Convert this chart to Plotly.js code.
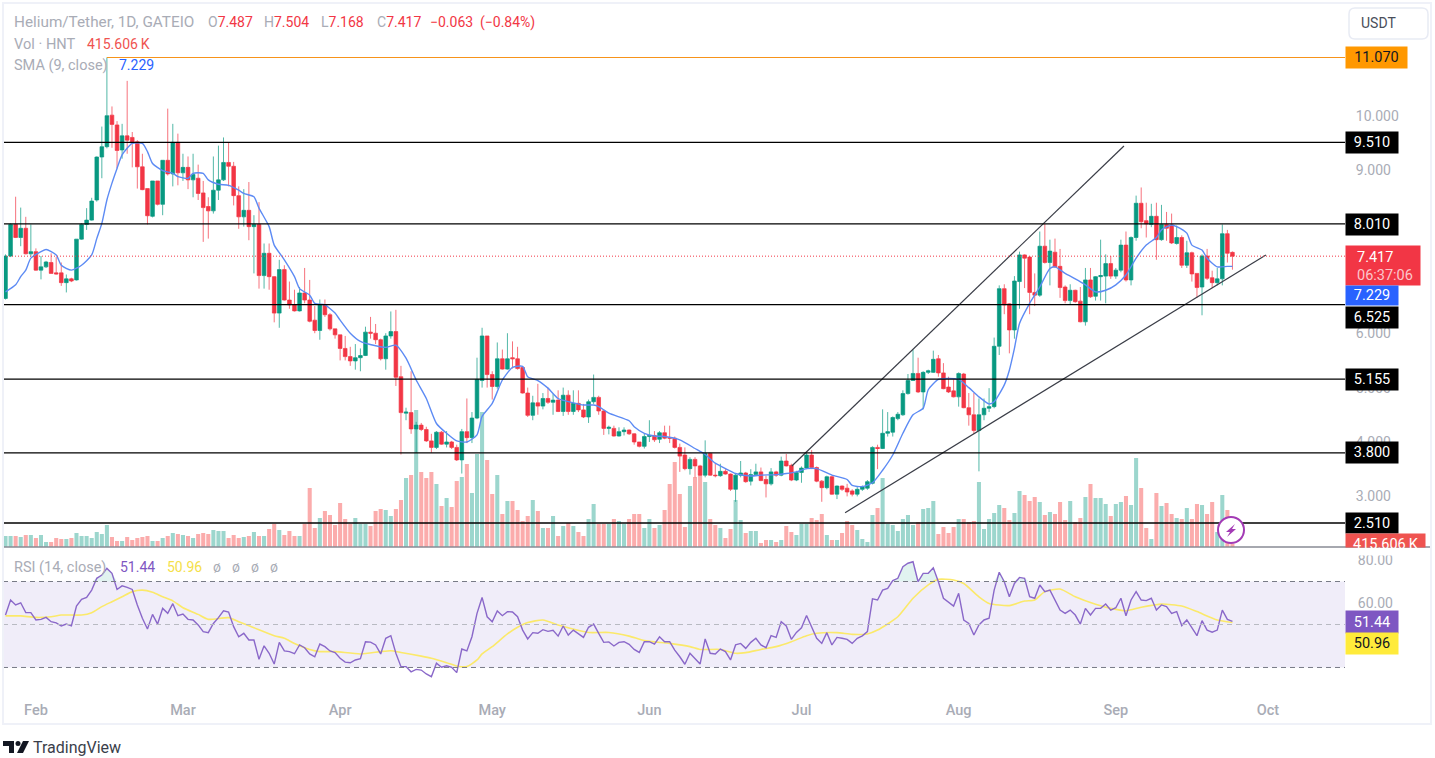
<!DOCTYPE html>
<html><head><meta charset="utf-8">
<script src="https://cdn.plot.ly/plotly-3.0.1.min.js"></script>
<style>html,body{margin:0;padding:0;background:#fff;overflow:hidden}#c{width:1435px;height:758px}</style>
</head><body><div id="c"></div>
<script>
const firstDay = [2023,0,25];
const openP = [
6.64,7.42,8.00,7.76,7.93,7.46,7.50,7.16,7.22,7.30,
7.11,7.11,6.93,7.00,6.98,7.73,8.00,8.08,8.45,9.24,
9.43,10.01,9.83,9.37,9.63,9.60,9.52,9.06,8.66,8.15,
8.80,8.37,9.18,8.93,9.51,8.95,9.05,8.82,8.85,8.58,
8.33,8.25,8.63,8.82,9.14,9.07,8.53,8.14,8.26,7.96,
8.00,7.06,7.47,7.04,6.37,7.17,6.61,6.52,6.41,6.74,
6.61,6.24,6.05,6.52,6.34,6.08,5.97,5.72,5.57,5.49,
5.55,5.59,6.02,6.00,5.88,5.53,5.95,6.03,5.20,4.53,
4.54,4.24,4.31,4.23,4.02,3.90,4.18,3.96,4.00,3.90,
3.67,4.19,4.08,4.44,5.13,5.95,5.24,5.02,5.53,5.34,
5.55,5.53,5.37,4.90,4.49,4.72,4.66,4.80,4.73,4.77,
4.56,4.86,4.56,4.71,4.59,4.46,4.74,4.82,4.57,4.25,
4.25,4.11,4.19,4.22,4.15,4.00,3.92,4.10,4.12,4.05,
4.17,4.08,4.07,3.90,3.76,3.51,3.68,3.56,3.39,3.79,
3.39,3.38,3.46,3.41,3.13,3.39,3.43,3.28,3.40,3.45,
3.31,3.23,3.45,3.39,3.65,3.57,3.30,3.44,3.52,3.76,
3.53,3.28,3.16,3.36,3.04,3.19,3.15,3.10,3.04,3.13,
3.15,3.24,3.90,3.88,4.16,4.18,4.43,4.50,4.89,5.13,
5.26,4.92,5.28,5.28,5.53,5.27,5.01,4.94,4.83,5.25,
4.63,4.50,4.21,4.50,4.62,4.65,5.76,6.82,6.54,6.06,
6.95,7.44,7.40,6.75,6.70,7.60,7.30,7.49,7.23,6.85,
6.60,6.79,6.59,6.21,6.98,6.68,7.04,7.05,7.28,7.05,
7.16,7.62,6.98,7.76,8.39,8.07,8.00,8.15,7.72,8.00,
7.99,7.65,7.76,7.25,7.48,7.10,6.85,7.42,7.02,6.93,
7.00,7.83,7.487];
const highP = [
7.45,8.02,8.51,8.31,8.14,8.00,7.56,7.42,7.33,7.47,
7.40,7.30,7.08,7.02,7.73,8.02,8.30,8.49,9.25,9.80,
11.07,10.17,9.90,9.85,10.64,9.70,9.55,9.30,8.66,8.80,
8.80,9.18,10.13,9.85,9.67,9.30,9.25,9.30,9.10,8.80,
8.50,9.25,9.45,9.60,9.50,9.15,8.70,8.65,8.78,8.17,
8.41,7.65,7.65,7.05,7.35,7.25,6.95,6.80,6.85,7.20,
6.98,6.50,6.62,6.62,6.37,6.08,5.97,5.95,5.75,5.80,
5.72,6.12,6.30,6.17,5.90,6.00,6.40,6.43,5.40,4.63,
5.30,4.37,4.35,4.28,4.15,4.20,4.20,4.20,4.02,3.95,
4.24,4.80,4.55,5.55,6.10,5.95,5.30,5.83,5.70,6.00,
5.85,5.75,5.38,5.00,4.85,5.07,4.90,5.00,4.88,4.95,
5.00,4.95,4.95,4.95,4.70,4.78,5.24,4.85,4.60,4.30,
4.30,4.27,4.27,4.23,4.16,4.00,4.15,4.40,4.20,4.20,
4.30,4.30,4.10,3.97,3.90,3.72,3.72,3.58,4.03,3.80,
3.60,3.60,3.50,3.42,3.41,3.65,3.45,3.50,3.60,3.53,
3.38,3.52,3.47,3.73,3.78,3.60,3.47,3.55,3.80,3.85,
3.55,3.30,3.38,3.38,3.20,3.20,3.23,3.13,3.17,3.20,
3.30,3.92,3.95,4.60,4.55,4.47,4.55,4.95,5.25,5.70,
5.55,5.30,5.33,5.68,5.60,5.45,5.20,5.15,5.28,5.27,
4.90,4.90,4.80,4.80,4.99,5.92,6.88,6.90,6.55,7.05,
7.50,7.45,7.42,7.10,7.87,8.01,7.72,7.74,7.55,6.88,
6.90,6.80,6.85,7.20,7.20,7.05,7.72,7.45,7.42,7.20,
7.72,7.87,7.78,8.53,8.68,8.40,8.38,8.40,8.36,8.23,
8.20,7.98,7.80,7.70,7.50,7.10,7.45,7.55,7.15,7.20,
8.00,7.90,7.504];
const lowP = [
6.62,7.40,7.75,7.60,7.45,7.41,7.15,6.99,7.20,7.10,
7.08,6.87,6.75,6.94,6.97,7.72,7.90,8.07,8.42,8.85,
9.40,9.41,9.03,9.21,9.30,9.05,8.66,8.63,8.00,8.13,
8.35,8.17,8.90,8.70,8.72,8.80,8.65,8.50,8.45,7.68,
7.74,8.20,8.45,8.80,8.70,8.35,7.92,7.96,7.71,7.10,
6.82,6.82,6.80,6.20,6.10,6.60,6.45,6.40,6.40,6.55,
6.20,6.00,5.88,6.30,6.05,5.90,5.50,5.50,5.40,5.33,
5.30,5.58,5.90,5.80,5.50,5.33,5.90,5.03,3.77,4.40,
4.15,3.80,4.20,4.00,3.80,3.87,3.95,3.90,3.87,3.65,
3.42,3.98,3.98,4.42,5.00,5.00,4.78,4.98,5.33,5.33,
5.35,5.33,4.89,4.46,4.40,4.50,4.60,4.70,4.50,4.55,
4.48,4.50,4.50,4.55,4.44,4.35,4.70,4.50,4.13,4.14,
4.10,4.10,4.12,4.13,3.95,3.90,3.88,4.00,4.00,3.98,
4.05,3.98,3.88,3.45,3.48,3.40,3.35,3.38,3.35,3.38,
3.35,3.36,3.40,3.10,2.90,3.35,3.25,3.20,3.38,3.28,
2.98,3.20,3.36,3.37,3.55,3.28,3.28,3.25,3.50,3.50,
3.26,2.90,3.13,3.03,2.95,3.10,3.00,3.00,3.00,3.10,
3.12,3.22,3.50,3.87,4.10,4.10,4.40,4.48,4.87,5.13,
4.90,4.60,5.25,5.27,5.20,4.97,4.90,4.82,4.65,4.62,
4.30,4.15,3.46,4.40,4.55,4.62,5.60,6.35,5.63,5.90,
6.45,6.83,6.35,6.50,6.67,7.28,6.88,7.20,6.65,6.55,
6.52,6.56,6.20,6.14,6.65,6.60,6.60,6.55,7.00,7.00,
7.12,6.95,6.88,7.70,7.93,7.76,7.95,7.35,7.70,7.70,
7.64,7.63,7.20,7.20,6.95,6.65,6.33,6.98,6.83,6.88,
6.88,7.30,7.168];
const closeP = [
7.42,8.00,7.76,7.93,7.46,7.50,7.16,7.22,7.31,7.10,
7.09,6.93,7.00,6.96,7.73,8.00,8.08,8.43,9.24,9.43,
10.00,9.84,9.36,9.63,9.55,9.50,9.06,8.64,8.16,8.80,
8.37,9.18,8.93,9.51,8.95,9.05,8.82,8.92,8.57,8.31,
8.25,8.63,8.82,9.14,9.07,8.53,8.14,8.26,7.96,8.00,
7.06,7.47,7.04,6.37,7.17,6.61,6.52,6.41,6.74,6.61,
6.22,6.05,6.52,6.34,6.08,5.97,5.72,5.57,5.49,5.55,
5.59,6.02,6.00,5.88,5.53,5.95,6.03,5.19,4.54,4.55,
4.24,4.31,4.23,4.02,3.90,4.18,3.96,4.00,3.90,3.67,
4.19,4.08,4.44,5.15,5.95,5.24,5.02,5.53,5.34,5.53,
5.53,5.35,4.90,4.49,4.72,4.66,4.80,4.73,4.77,4.56,
4.86,4.56,4.71,4.59,4.46,4.74,4.82,4.57,4.25,4.27,
4.11,4.19,4.22,4.15,4.00,3.92,4.10,4.12,4.04,4.17,
4.07,4.07,3.90,3.74,3.51,3.68,3.56,3.39,3.79,3.39,
3.38,3.46,3.41,3.13,3.39,3.43,3.27,3.40,3.45,3.29,
3.23,3.45,3.39,3.65,3.56,3.30,3.44,3.52,3.76,3.53,
3.28,3.16,3.36,3.04,3.19,3.13,3.08,3.04,3.13,3.18,
3.27,3.90,3.88,4.16,4.19,4.45,4.51,4.89,5.13,5.26,
4.92,5.28,5.31,5.52,5.27,4.98,4.92,4.83,5.26,4.63,
4.50,4.21,4.50,4.62,4.65,5.76,6.82,6.52,6.06,6.96,
7.44,7.38,6.75,6.70,7.60,7.30,7.51,7.22,6.84,6.60,
6.79,6.58,6.21,6.98,6.67,7.04,7.06,7.28,7.05,7.16,
7.62,6.98,7.76,8.39,8.05,8.01,8.15,7.72,8.00,7.93,
7.66,7.76,7.25,7.48,7.09,6.84,7.42,7.01,6.93,7.00,
7.83,7.47,7.417];
const volumeLots = [
11,11,11,10,12,12,9,12,5,5,
9,8,8,9,14,11,11,9,15,13,
22,10,6,6,10,7,9,10,11,6,
6,9,11,14,13,12,11,9,13,14,
13,17,16,16,9,12,9,10,11,15,
11,11,18,23,17,12,16,11,11,23,
59,19,29,36,32,22,44,28,23,29,
23,23,21,36,38,37,31,38,47,69,
72,137,75,69,75,63,41,49,40,66,
70,83,54,93,135,87,53,72,33,46,
46,37,26,31,47,36,19,19,31,11,
21,24,21,15,11,28,43,23,23,23,
28,26,23,28,33,33,19,28,19,22,
37,63,85,53,20,61,70,72,65,28,
22,19,9,18,47,27,14,16,16,4,
7,7,5,7,21,15,12,23,23,29,
27,33,12,7,7,14,26,22,17,8,
5,32,39,69,23,22,16,28,32,22,
25,38,39,46,13,20,14,20,28,28,
25,26,65,18,28,34,42,39,27,34,
56,52,46,50,45,32,35,33,45,27,
46,25,29,50,63,49,49,43,31,43,
45,51,42,89,59,19,8,54,41,44,
33,29,28,39,28,43,42,33,45,15,
52,37,2.97];
const rsiValues = [
54.4,61.4,59.1,60.1,55.5,55.5,52.1,52.4,53.3,51.3,
50.8,49.3,50.2,49.4,58.6,61.7,62.6,66,71.5,73,
76.1,73.8,66.3,68,67.3,66.3,59.1,52.9,47.9,54.7,
50.2,57.5,55.2,59.7,54.1,54.9,52.4,52.1,49.8,46.7,
46.2,50.5,53.2,56.4,55.8,49,44.3,45.9,42.8,42.8,
33.8,40.1,36.6,31.6,41.7,37.7,37.4,36.4,40.5,39.2,
36.3,35,40.9,39.7,37.7,36.9,34.3,32.5,32.2,33.5,
34.1,42,41.8,40.5,36.3,43.6,44.8,36.6,30.4,30.4,
28,29.1,28.8,27,25.7,32,30.1,30.8,30.1,27.6,
38.6,37.7,44.3,55.2,62.6,53.6,51.3,56.3,54.1,56,
55.8,53.6,47.4,43.3,46.2,45.9,47.6,46.8,47.3,44.6,
49.3,45.1,47.4,45.9,44,48.7,50.2,45.9,41.7,41.9,
40,41.7,42,40.8,38.4,37,42,42,40.9,44.3,
42,42,38.1,35,31.5,36.6,34.3,31.6,43.3,36.6,
36.3,38.6,37.4,33.5,40.5,41.2,38.9,41.7,43.6,40.5,
39.2,44.8,44,51.3,49.3,43.1,46.3,48.5,54.2,49,
43.6,41.2,46.2,40.5,44,43.6,43.1,41.2,
43.6,44.7,46.7,61.9,61.4,66,66.8,70.4,71.5,76.9,
78.5,79.2,69.9,73.8,73.8,76.4,69.9,62.2,60.6,58.6,
64.5,52.1,50.5,45.1,49.8,52.1,52.9,66,74.3,69.9,
62.9,69.1,71.9,71.5,62.9,62.2,68.4,65.3,66,61.7,
56.7,55.2,56.7,54.4,50.2,57.5,54.4,57.5,57.5,59.5,
56.7,57.8,62.2,54.1,61.4,65.3,61.4,61.1,62.2,56.7,
59.1,58.3,55.2,56,49.5,52.1,48.2,44.8,51.8,47.4,
46.4,47.4,56.7,52.4,51.44];
const smaDayIndex = [0,2,3,4,5,7,8,10,11,13,15,17,18,19,20,21,22,23,25,27,28,29,31,33,34,36,37,39,40,42,44,46,47,49,50,52,53,55,57,58,60,61,63,65,66,68,70,73,75,77,79,81,83,85,87,89,91,93,94,96,98,100,102,103,105,107,109,112,114,116,117,119,123,124,126,128,130,133,136,138,140,142,144,147,149,152,154,156,158,160,163,166,167,169,171,173,175,177,179,181,182,184,186,188,190,192,194,195,197,198,199,200,202,204,206,207,209,211,213,215,217,219,221,223,225,227,228,230,231,233,234,236,237,239,241,242];
const smaValues = [6.76,6.89,7.04,7.16,7.38,7.5,7.54,7.44,7.25,7.16,7.25,7.44,7.74,8.02,8.45,8.76,9.03,9.28,9.49,9.49,9.34,9.12,8.99,8.94,8.88,8.85,8.94,8.94,8.82,8.74,8.72,8.63,8.57,8.51,8.3,7.96,7.62,7.35,7.04,6.82,6.7,6.55,6.52,6.37,6.24,6.0,5.85,5.77,5.74,5.78,5.54,5.14,4.8,4.34,4.16,4.02,4.0,4.13,4.47,4.71,5.14,5.37,5.39,5.2,5.13,4.99,4.8,4.72,4.68,4.68,4.65,4.53,4.39,4.28,4.16,4.11,4.1,4.04,3.88,3.77,3.61,3.51,3.42,3.375,3.39,3.4,3.42,3.45,3.51,3.51,3.39,3.31,3.2,3.18,3.25,3.48,3.76,4.16,4.5,4.62,4.96,5.15,5.17,5.15,5.0,4.83,4.7,4.74,5.05,5.32,5.72,6.18,6.55,6.85,7.19,7.22,7.1,7.0,6.89,6.76,6.79,6.89,7.07,7.38,7.62,7.76,7.9,7.99,7.96,7.84,7.62,7.53,7.38,7.22,7.23,7.229];
const rsiMaDayIndex = [0,3,6,9,11,15,17,19,21,23,25,27,29,31,33,35,38,40,44,46,49,53,55,57,60,62,65,70,74,76,78,82,84,87,89,91,93,94,96,99,101,103,106,109,111,115,119,123,126,131,135,137,141,144,146,149,152,155,158,160,164,167,170,172,176,179,182,184,187,189,192,194,198,201,203,205,208,211,215,218,221,224,228,232,235,239,242];
const rsiMaValues = [54,54,53.3,53.6,54.4,54.4,55.5,58.3,60.6,62.9,65.3,66,65,62.9,61,57.8,54.7,52.4,53.2,51.3,48.5,44.8,43.6,41.2,38.4,37.4,37.4,36.3,37.4,37.8,37,35.3,34.3,32.2,30.7,30.4,33.5,36.3,39.7,45.6,48.7,50.9,52.1,49.8,48.5,46.3,46.3,44.6,42.5,41.2,39.7,38.4,38.4,36.6,36.9,38.4,39.7,42,44.8,45.9,46.2,45.4,45.6,47.4,53.6,62.2,68.4,71,70.7,69.1,62.9,59.8,58.8,60.9,61.4,65.3,66.5,62.9,59.4,57.5,56.4,58,59.5,58.6,56,52.1,50.96];
const supportLevels = [9.51,8.01,6.525,5.155,3.8,2.51];
const trendStartDates = ['2023-06-29 02:24','2023-07-09 14:24'];
const trendEndDates = ['2023-09-02 14:24','2023-09-30 14:24'];
const trendStartPrices = [3.558,2.70];
const trendEndPrices = [9.443,7.44];
const monthDates = ['2023-01-31','2023-03-01','2023-04-01','2023-05-01','2023-06-01','2023-07-01','2023-08-01','2023-09-01','2023-10-01'];
const monthLabels = ['Feb','Mar','Apr','May','Jun','Jul','Aug','Sep','Oct'];
const priceTicks = [3,4,5,6,9,10];
const rsiTicks = [60,80];
const highestPrice = 11.07, lastPrice = 7.417;

const pad=n=>String(n).padStart(2,'0');
const dates=closeP.map((_,i)=>{const d=new Date(Date.UTC(firstDay[0],firstDay[1],firstDay[2]+i));
  return d.getUTCFullYear()+'-'+pad(d.getUTCMonth()+1)+'-'+pad(d.getUTCDate());});
const GREEN='#089981',RED='#f23645';
const FONT='Roboto, "Open Sans", sans-serif';
const PX=x=>(x-3)/1342, PY=y=>(695-y)/691;
const xRange=['2023-01-24 12:10','2023-10-16 04:48'];

const traces=[
 {type:'bar',x:dates,y:volumeLots,xaxis:'x',yaxis:'y',
  marker:{color:closeP.map((c,i)=>c>=openP[i]?'#9cd6cd':'#fbacac'),line:{width:0}},hoverinfo:'skip',showlegend:false},
 {type:'candlestick',x:dates,open:openP,high:highP,low:lowP,close:closeP,xaxis:'x',yaxis:'y2',
  increasing:{line:{color:'rgba(8,153,129,0.7)',width:1},fillcolor:GREEN},decreasing:{line:{color:'rgba(242,54,69,0.7)',width:1},fillcolor:RED},
  whiskerwidth:0,hoverinfo:'skip',showlegend:false},
 {type:'scatter',mode:'lines',x:smaDayIndex.map(i=>dates[i]),y:smaValues,xaxis:'x',yaxis:'y2',
  line:{color:'#5d8bf4',width:1.4,shape:'spline',smoothing:0.6},hoverinfo:'skip',showlegend:false},
 ...trendStartDates.map((d,k)=>({type:'scatter',mode:'lines',x:[d,trendEndDates[k]],y:[trendStartPrices[k],trendEndPrices[k]],
  xaxis:'x',yaxis:'y2',line:{color:'#3a3d47',width:1.2},hoverinfo:'skip',showlegend:false})),
 {type:'scatter',mode:'lines',x:dates,y:dates.map(()=>70),xaxis:'x',yaxis:'y3',line:{width:0,color:'rgba(0,0,0,0)'},hoverinfo:'skip',showlegend:false},
 {type:'scatter',mode:'lines',x:dates,y:rsiValues.map(v=>Math.max(v,70)),xaxis:'x',yaxis:'y3',fill:'tonexty',fillcolor:'rgba(8,153,129,0.12)',line:{width:0,color:'rgba(0,0,0,0)'},hoverinfo:'skip',showlegend:false},
 {type:'scatter',mode:'lines',x:rsiMaDayIndex.map(i=>dates[i]),y:rsiMaValues,xaxis:'x',yaxis:'y3',
  line:{color:'#fbe96a',width:1.6,shape:'spline',smoothing:0.6},hoverinfo:'skip',showlegend:false},
 {type:'scatter',mode:'lines',x:dates,y:rsiValues,xaxis:'x',yaxis:'y3',line:{color:'#8a68c9',width:1.4},hoverinfo:'skip',showlegend:false}
];

function poly(p){return 'M'+p.map(q=>PX(q[0])+','+PY(q[1])).join(' L')+' Z';}
function roundRect(a,b,c,d,r){return 'M'+PX(a+r)+','+PY(b)+' L'+PX(c-r)+','+PY(b)+' Q'+PX(c)+','+PY(b)+' '+PX(c)+','+PY(b+r)+' L'+PX(c)+','+PY(d-r)+' Q'+PX(c)+','+PY(d)+' '+PX(c-r)+','+PY(d)+' L'+PX(a+r)+','+PY(d)+' Q'+PX(a)+','+PY(d)+' '+PX(a)+','+PY(d-r)+' L'+PX(a)+','+PY(b+r)+' Q'+PX(a)+','+PY(b)+' '+PX(a+r)+','+PY(b)+' Z';}
const shapes=[
 {type:'rect',xref:'paper',yref:'y3',x0:0,x1:1,y0:30,y1:70,fillcolor:'#f0edf9',line:{width:0},layer:'below'},
 {type:'line',xref:'paper',yref:'y3',x0:0,x1:1,y0:70,y1:70,line:{color:'#787b86',width:1,dash:'5px 4px'}},
 {type:'line',xref:'paper',yref:'y3',x0:0,x1:1,y0:50,y1:50,line:{color:'#b8bac2',width:1,dash:'5px 4px'}},
 {type:'line',xref:'paper',yref:'y3',x0:0,x1:1,y0:30,y1:30,line:{color:'#787b86',width:1,dash:'5px 4px'}},
 ...supportLevels.map(v=>({type:'line',xref:'paper',yref:'y2',x0:0,x1:1,y0:v,y1:v,line:{color:'#000',width:1.3}})),
 {type:'line',xref:'x',yref:'y2',x0:dates[20],x1:xRange[1],y0:highestPrice,y1:highestPrice,line:{color:'#f7931a',width:1}},
 {type:'line',xref:'paper',yref:'y2',x0:0,x1:1,y0:lastPrice,y1:lastPrice,line:{color:RED,width:1,dash:'1px 2px'}},
 {type:'line',xref:'paper',yref:'paper',x0:PX(3),x1:PX(1431),y0:PY(547),y1:PY(547),line:{color:'#888b94',width:1.6}},
 {type:'rect',xref:'paper',yref:'paper',x0:PX(3),x1:PX(1431),y0:PY(3),y1:PY(724),line:{color:'#eff1f8',width:2}},
 {type:'path',xref:'paper',yref:'paper',path:roundRect(1349,8,1428,39,6),line:{color:'#e8ebf4',width:1.5}},
 {type:'circle',xref:'paper',yref:'paper',x0:PX(1218),x1:PX(1244),y0:PY(517),y1:PY(543),fillcolor:'#fff',line:{color:'#a33bb5',width:2}},
 {type:'path',xref:'paper',yref:'paper',path:poly([[1235,524],[1226,532],[1230,532],[1227,537],[1236,529],[1232,529]]),fillcolor:'#a33bb5',line:{width:0}},
 {type:'path',xref:'paper',yref:'paper',path:poly([[3,741],[14,741],[14,753],[9,753],[9,746],[3,746]]),fillcolor:'#131722',line:{width:0}},
 {type:'circle',xref:'paper',yref:'paper',x0:PX(15.5),x1:PX(20.5),y0:PY(741),y1:PY(746),fillcolor:'#131722',line:{width:0}},
 {type:'path',xref:'paper',yref:'paper',path:poly([[23,741],[29,741],[23,753],[17,753]]),fillcolor:'#131722',line:{width:0}}
];

const GREY='#a9acb6';
const label=(x,y,text,color,size,anchor)=>({xref:'paper',yref:'paper',x:PX(x),y:PY(y),text,showarrow:false,xanchor:anchor||'left',yanchor:'middle',
  font:{family:FONT,size:size||14,color:color||GREY},borderpad:0});
const tag=(x,y,w,h,text,bg,color)=>({xref:'paper',yref:'paper',x:PX(x),y:PY(y),text,showarrow:false,xanchor:'left',yanchor:'middle',width:w-2,height:h,align:'center',valign:'middle',
  bgcolor:bg,font:{family:FONT,size:14.5,color:color||'#fff'},borderpad:0});
const R=s=>'<span style="color:'+RED+'">'+s+'</span>';
const annotations=[
 label(13,22,'Helium/Tether, 1D, GATEIO',GREY,15.3),
 label(207,22,'O'+R('7.487')),label(263,22,'H'+R('7.504')),label(320,22,'L'+R('7.168')),label(376,22,'C'+R('7.417')),
 label(429,22,R('\u22120.063')),label(479,22,R('(\u22120.84%)')),
 label(13,44,'Vol \u00b7 HNT',GREY,14.6),label(86,44,'415.606\u2009K','#ef5350'),
 label(13,65,'SMA (9, close)',GREY,14.5),label(118,65,'7.229','#2962ff'),
 label(13,567,'RSI (14, close)',GREY,14.5),label(119,567,'51.44','#7e57c2'),label(166,567,'50.96','#f5e04a'),
 label(212,567,'\u00f8'),label(231,567,'\u00f8'),label(250,567,'\u00f8'),label(269,567,'\u00f8'),
 label(32,747,'TradingView','#3a3e4a',16),
 label(1360,23,'USDT','#4a4e5a',14),
 tag(1345,57.5,63,21,'11.070','#ff9800','#131722'),
 tag(1345,142,54,21,'9.510','#000'),
 tag(1345,224,54,21,'8.010','#000'),
 tag(1345,265.5,76,39,' ',RED),
 label(1356,257,'7.417','#fff',14.5),label(1356,275,'06:37:06','#fbc6cb',14.5),
 tag(1345,295.5,54,19,'7.229','#2962ff'),
 tag(1345,317.5,54,21,'6.525','#000'),
 tag(1345,379,54,21,'5.155','#000'),
 tag(1345,452.5,54,21,'3.800','#000'),
 tag(1345,523,54,20,'2.510','#000'),
 tag(1345,540.5,81,13,' ','#ef5350'),
 label(1385.5,544,'415.606\u2009K','#fff',14.5,'center'),
 tag(1345,551.5,85,6,' ','#fff'),
 tag(1345,622,54,22,'51.44','#7e57c2'),
 tag(1345,643,54,21,'50.96','#ffeb3b','#131722')
];

const layout={
 width:1435,height:758,margin:{l:3,r:90,t:4,b:63,pad:0},paper_bgcolor:'#fff',plot_bgcolor:'#fff',
 showlegend:false,bargap:0.2,boxgap:0.1,boxgroupgap:0.2,dragmode:false,
 font:{family:FONT,color:GREY,size:14},
 xaxis:{type:'date',range:xRange,anchor:'y3',domain:[0,1],showgrid:false,zeroline:false,showline:false,
   tickmode:'array',tickvals:monthDates,ticktext:monthLabels,ticks:'outside',ticklen:2,tickcolor:'rgba(0,0,0,0)',
   tickfont:{family:FONT,size:14.5,color:GREY,weight:500},rangeslider:{visible:false},fixedrange:true},
 yaxis:{domain:[0.2142,1],range:[0,543],visible:false,fixedrange:true},
 yaxis2:{overlaying:'y',side:'right',anchor:'x',range:[2.069,12.054],showgrid:false,zeroline:false,showline:false,
   tickmode:'array',tickvals:priceTicks,tickformat:'.3f',ticks:'outside',ticklen:7,tickcolor:'rgba(0,0,0,0)',
   tickfont:{family:FONT,size:14,color:GREY},fixedrange:true},
 yaxis3:{domain:[0,0.2127],anchor:'x',side:'right',range:[17.2,85.58],showgrid:false,zeroline:false,showline:false,
   tickmode:'array',tickvals:rsiTicks,tickformat:'.2f',ticks:'outside',ticklen:9,tickcolor:'rgba(0,0,0,0)',
   tickfont:{family:FONT,size:14,color:GREY},fixedrange:true},
 shapes,annotations
};
Plotly.newPlot('c',traces,layout,{displayModeBar:false,staticPlot:true});
</script></body></html>
